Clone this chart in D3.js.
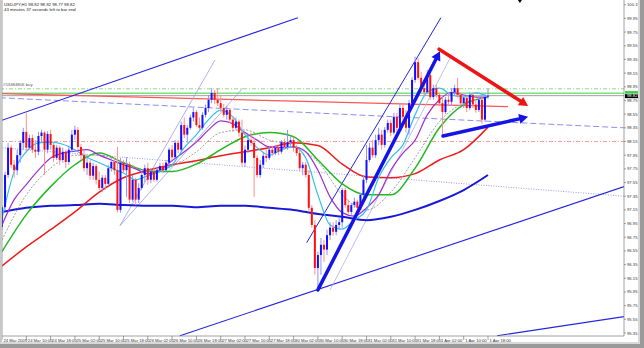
<!DOCTYPE html>
<html><head><meta charset="utf-8">
<script src="https://cdn.jsdelivr.net/npm/d3@7"></script>
<style>html,body{margin:0;padding:0;background:#fff;}svg{display:block;}</style>
</head><body>
<script>
// ---------- DATA ----------
const title = "USDJPY,H1  98.82 98.92 98.77 98.82";
const subtitle = "43 minutes 37 seconds left to bar end";
const orderLabel = "#53484806 buy";
const timeLabels = ["24 Mar 2009","24 Mar 10:00","24 Mar 18:00","25 Mar 02:00","25 Mar 10:00","25 Mar 18:00","26 Mar 02:00","26 Mar 10:00","26 Mar 18:00","27 Mar 02:00","27 Mar 10:00","27 Mar 18:00","30 Mar 02:00","30 Mar 10:00","30 Mar 18:00","31 Mar 02:00","31 Mar 10:00","31 Mar 18:00","1 Apr 02:00","1 Apr 10:00","1 Apr 18:00"];
const priceTicks = [100.15,99.95,99.75,99.55,99.35,99.15,98.95,98.75,98.55,98.35,98.15,97.95,97.75,97.55,97.35,97.15,96.95,96.75,96.55,96.35,96.15,95.95,95.75,95.55,95.35];
const lastPrice = 98.82;

const open = [96.90,97.19,97.66,98.06,97.81,97.73,97.95,98.13,98.29,98.06,
98.20,98.03,98.00,98.23,98.28,98.03,98.26,98.10,97.91,98.06,
97.88,98.00,97.85,98.03,98.25,98.32,98.07,97.95,97.76,97.84,
97.65,97.79,97.59,97.47,97.62,97.53,97.76,97.85,97.73,97.15,
97.84,97.73,97.81,97.30,97.59,97.30,97.47,97.66,97.76,97.59,
97.71,97.59,97.73,97.79,97.73,97.84,98.03,97.92,98.13,98.03,
98.39,98.25,98.35,98.50,98.58,98.39,98.35,98.54,98.64,98.76,
98.86,98.76,98.71,98.64,98.54,98.61,98.47,98.35,98.44,98.28,
97.84,98.03,98.17,98.13,97.91,97.66,97.81,97.94,97.91,98.03,
97.98,98.06,98.00,98.14,98.07,98.14,98.17,98.06,97.98,97.76,
97.81,97.66,97.18,96.93,96.30,96.49,96.64,96.57,96.78,96.89,
96.83,96.93,96.97,97.44,97.22,97.12,97.22,97.27,97.18,97.37,
97.59,97.88,98.06,97.95,98.17,98.25,98.10,98.32,98.42,98.28,
98.51,98.35,98.64,98.51,98.35,98.71,99.05,99.31,99.08,98.93,
98.87,99.12,98.80,98.93,98.83,98.71,98.58,98.76,98.73,98.87,
98.93,98.83,98.71,98.79,98.64,98.83,98.69,98.61,98.76,98.47,
98.82];
const high = [97.22,97.71,98.13,98.10,97.88,98.03,98.17,98.35,98.57,98.25,
98.25,98.17,98.29,98.32,98.30,98.30,98.32,98.14,98.10,98.09,
98.06,98.03,98.09,98.32,98.38,98.36,98.11,98.03,97.91,97.88,
97.84,97.82,97.71,97.66,97.66,97.81,97.91,97.91,98.07,97.91,
97.88,97.92,97.85,97.66,97.62,97.54,97.71,97.81,97.84,97.76,
97.76,97.78,97.84,97.84,97.88,98.06,98.10,98.17,98.17,98.44,
98.50,98.39,98.54,98.64,98.61,98.50,98.58,98.69,98.83,98.93,
98.90,98.93,98.82,98.70,98.67,98.64,98.52,98.50,98.47,98.47,
98.09,98.25,98.28,98.20,97.95,97.88,98.00,98.03,98.07,98.09,
98.10,98.09,98.17,98.19,98.32,98.22,98.22,98.10,98.03,97.85,
97.85,97.73,97.22,97.00,96.54,96.74,96.71,96.86,96.97,96.97,
97.00,97.03,97.47,97.47,97.30,97.25,97.33,97.30,97.40,97.66,
98.10,98.13,98.17,98.25,98.35,98.32,98.36,98.47,98.47,98.57,
98.57,98.70,98.70,98.61,98.76,99.09,99.39,99.37,99.17,98.99,
99.20,99.23,98.98,98.98,98.87,98.80,98.80,98.87,98.93,98.98,
99.08,98.87,98.83,98.82,98.87,98.87,98.76,98.80,98.80,98.85,
98.92];
const low = [96.86,97.15,97.62,97.76,97.62,97.66,97.84,98.03,98.00,98.03,
97.98,97.91,97.95,98.14,97.66,97.98,98.03,97.85,97.88,97.81,
97.84,97.76,97.81,98.00,98.17,98.03,97.88,97.71,97.66,97.59,
97.59,97.52,97.44,97.41,97.44,97.50,97.71,97.66,97.11,97.11,
97.69,97.34,97.25,97.27,97.22,97.25,97.44,97.56,97.52,97.54,
97.56,97.56,97.71,97.69,97.71,97.76,97.88,97.91,97.98,98.00,
98.20,98.13,98.32,98.44,98.36,98.32,98.32,98.50,98.58,98.71,
98.70,98.67,98.58,98.50,98.47,98.42,98.29,98.32,98.22,97.79,
97.78,97.98,98.09,97.34,97.62,97.62,97.76,97.85,97.88,97.94,
97.95,97.95,97.97,98.03,98.03,98.06,98.00,97.94,97.71,97.66,
97.62,97.12,96.89,96.20,95.98,96.20,96.39,96.49,96.71,96.77,
96.78,96.86,96.89,97.18,97.08,97.08,97.18,97.12,97.15,97.33,
97.54,97.85,97.91,97.91,98.10,98.03,98.06,98.28,98.23,98.25,
98.22,98.32,98.47,98.28,98.25,98.67,99.01,99.05,98.87,98.82,
98.85,98.76,98.76,98.79,98.67,98.22,98.55,98.69,98.67,98.83,
98.79,98.67,98.64,98.58,98.61,98.64,98.57,98.58,98.41,98.44,
98.77];
const close = [97.19,97.66,98.06,97.81,97.73,97.95,98.13,98.29,98.06,98.20,
98.03,98.00,98.23,98.28,98.03,98.26,98.10,97.91,98.06,97.88,
98.00,97.85,98.03,98.25,98.32,98.07,97.95,97.76,97.84,97.65,
97.79,97.59,97.47,97.62,97.53,97.76,97.85,97.73,97.15,97.84,
97.73,97.81,97.30,97.59,97.30,97.47,97.66,97.76,97.59,97.71,
97.59,97.73,97.79,97.73,97.84,98.03,97.92,98.13,98.03,98.39,
98.25,98.35,98.50,98.58,98.39,98.35,98.54,98.64,98.76,98.86,
98.76,98.71,98.64,98.54,98.61,98.47,98.35,98.44,98.28,97.84,
98.03,98.17,98.13,97.91,97.66,97.81,97.94,97.91,98.03,97.98,
98.06,98.00,98.14,98.07,98.14,98.17,98.06,97.98,97.76,97.81,
97.66,97.18,96.93,96.30,96.49,96.64,96.57,96.78,96.89,96.83,
96.93,96.97,97.44,97.22,97.12,97.22,97.27,97.18,97.37,97.59,
97.88,98.06,97.95,98.17,98.25,98.10,98.32,98.42,98.28,98.51,
98.35,98.64,98.51,98.35,98.71,99.05,99.31,99.08,98.93,98.87,
99.12,98.80,98.93,98.83,98.71,98.58,98.76,98.73,98.87,98.93,
98.83,98.71,98.79,98.64,98.83,98.69,98.61,98.76,98.47,98.80,
98.82];

// moving averages, read every 4 bars (fast) or every 8 bars (slow)
const maFast = [97.03,97.71,98.00,98.13,98.14,98.11,98.03,97.92,97.84,97.76,97.69,97.59,97.65,97.71,97.81,98.06,98.25,98.47,98.61,98.51,98.25,98.06,97.95,98.03,98.07,97.91,97.37,96.93,96.87,97.00,97.15,97.62,97.91,98.10,98.54,98.87,98.93,98.83,98.80,98.86,98.80];
const maPurple = [96.93,97.30,97.52,97.73,97.91,97.98,98.01,98.03,97.95,97.88,97.81,97.75,97.68,97.73,97.87,98.00,98.14,98.32,98.45,98.41,98.28,98.17,98.07,98.06,98.07,98.00,97.73,97.34,97.11,97.06,97.18,97.37,97.73,97.98,98.17,98.54,98.76,98.87,98.83,98.80,98.80];
const maGray = [96.71,97.37,97.76,97.95,97.95,97.85,97.73,97.79,98.00,98.28,98.32,98.17,98.09,97.85,97.37,97.15,97.41,97.91,98.44,98.71,98.79];
const maGreen = [96.54,97.08,97.49,97.81,97.98,97.84,97.72,97.71,97.82,98.03,98.22,98.28,98.22,97.88,97.53,97.37,97.37,97.76,98.35,98.69,98.80];
const maRed = [96.33,96.61,96.86,97.12,97.41,97.62,97.73,97.81,97.87,97.94,98.00,98.06,98.13,98.09,97.82,97.63,97.62,97.68,97.88,98.03,98.36];
const maBlue = [97.12,97.18,97.21,97.22,97.24,97.22,97.21,97.21,97.19,97.21,97.21,97.18,97.15,97.09,97.05,97.00,97.05,97.15,97.28,97.44,97.66];

// drawn objects: [barIndex, price] pairs
const trendUpperLeft = [[-0.7,98.45],[97.4,99.96]];
const trendLowerChannel = [[58.6,95.31],[204.8,97.49]];
const trendBottomRight = [[163,95.31],[204.8,95.59]];
const trendSteep = [[100.3,96.67],[144.5,99.96]];
const chan1 = [[38.85,96.92],[70.1,99.34]];
const chan2 = [[38.85,96.92],[79.3,98.93]];
const chan3 = [[108,95.98],[148.1,99.42]];
const arrowBlueBig = [[104,95.98],[144.2,99.47]];
const arrowRed = [[143.9,99.50],[173.2,98.67]];
const arrowBlueSmall = [[145.2,98.23],[173.2,98.51]];
const redLine = [[-0.7,98.85],[166.6,98.66]];
const blueDashed = [[-0.7,98.79],[204.8,98.35]];
const blueDotted = [[-0.7,98.06],[204.8,97.35]];
const greenDashDot = 98.92;
const greenSolid = 98.855;
const pinkDashDot = 98.15;

// ---------- CHART ----------
const W = 644, H = 348;
const plotR = 624, plotB = 336;
const svg = d3.select("body").append("svg").attr("width", W).attr("height", H)
  .style("font-family", "'Liberation Sans', Arial, sans-serif");

const x = d3.scaleLinear().domain([0, 160]).range([2, 488]);
const y = d3.scaleLinear().domain([95.35, 100.15]).range([333, 4.7]);

svg.append("rect").attr("width", W).attr("height", H).attr("fill", "#fff");
svg.append("defs").append("clipPath").attr("id", "clip")
  .append("rect").attr("x", 2).attr("y", 0).attr("width", plotR - 2).attr("height", plotB);

const g = svg.append("g").attr("clip-path", "url(#clip)");
const seg = (pts, color, w, dash) => g.append("line")
  .attr("x1", x(pts[0][0])).attr("y1", y(pts[0][1]))
  .attr("x2", x(pts[1][0])).attr("y2", y(pts[1][1]))
  .attr("stroke", color).attr("stroke-width", w).attr("stroke-dasharray", dash || null);
const hline = (v, color, w, dash) => g.append("line")
  .attr("x1", 0).attr("x2", plotR).attr("y1", y(v)).attr("y2", y(v))
  .attr("stroke", color).attr("stroke-width", w).attr("stroke-dasharray", dash || null);

// horizontal / background lines
hline(greenDashDot, "#8fd88f", 1, "4,2,1,2");
hline(greenSolid, "#7ee07e", 1.6);
hline(lastPrice, "#a0a0a0", 1);
seg(redLine, "#ff5555", 1.4);
seg(blueDashed, "#8c8cf0", 1, "6,3");
hline(pinkDashDot, "#ff9a9a", 1, "4,2,1,2");
seg(blueDotted, "#9a9af0", 1, "1,1.5");

// thin trend lines
seg(trendUpperLeft, "#2424e0", 1.1);
seg(trendLowerChannel, "#2424e0", 1.1);
seg(trendBottomRight, "#2424e0", 1.1);
seg(trendSteep, "#2424e0", 1);
seg(chan1, "#9a9af0", 0.8);
seg(chan2, "#9a9af0", 0.8);
seg(chan3, "#b0b0e8", 0.8);

// moving averages
const maLine = (arr, step, color, w, dash) => {
  const ln = d3.line().x((d, k) => x(k * step)).y(d => y(d)).curve(d3.curveMonotoneX);
  g.append("path").datum(arr).attr("d", ln).attr("fill", "none")
    .attr("stroke", color).attr("stroke-width", w).attr("stroke-dasharray", dash || null);
};
maLine(maBlue, 8, "#1818d8", 2);
maLine(maRed, 8, "#ee1c1c", 1.5);
maLine(maGreen, 8, "#22b822", 1.5);
maLine(maGray, 8, "#a0a0a0", 1, "2,1.5");
maLine(maPurple, 4, "#a030d0", 1.2);
maLine(maFast, 4, "#30c0f0", 1.2);

// candles
const bars = close.map((c, i) => ({i, o: open[i], h: high[i], l: low[i], c}));
g.selectAll(".wick").data(bars).enter().append("line")
  .attr("x1", d => x(d.i)).attr("x2", d => x(d.i))
  .attr("y1", d => y(d.h)).attr("y2", d => y(d.l))
  .attr("stroke", d => d.c >= d.o ? "#9090ff" : "#ff9090").attr("stroke-width", 1);
g.selectAll(".body").data(bars).enter().append("rect")
  .attr("x", d => x(d.i) - 1).attr("width", 2)
  .attr("y", d => y(Math.max(d.o, d.c)))
  .attr("height", d => Math.max(1, Math.abs(y(d.o) - y(d.c))))
  .attr("fill", d => d.c >= d.o ? "#1010ff" : "#ff1010");

// arrows
const arrow = (pts, color, w, head) => {
  const x1 = x(pts[0][0]), y1 = y(pts[0][1]), x2 = x(pts[1][0]), y2 = y(pts[1][1]);
  const a = Math.atan2(y2 - y1, x2 - x1);
  const bx = x2 - head * Math.cos(a), by = y2 - head * Math.sin(a);
  g.append("line").attr("x1", x1).attr("y1", y1).attr("x2", bx).attr("y2", by)
    .attr("stroke", color).attr("stroke-width", w).attr("stroke-linecap", "round");
  const hw = head * 0.55;
  g.append("path").attr("d", `M${x2},${y2}L${bx + hw * Math.sin(a)},${by - hw * Math.cos(a)}L${bx - hw * Math.sin(a)},${by + hw * Math.cos(a)}Z`)
    .attr("fill", color);
};
arrow(arrowBlueBig, "#1414e6", 3.5, 9);
arrow(arrowRed, "#ee1414", 3.5, 9);
arrow(arrowBlueSmall, "#1414e6", 3.5, 9);

// texts top-left
svg.append("text").attr("x", 4).attr("y", 6).attr("font-size", 4.3).attr("fill", "#222").text(title);
svg.append("text").attr("x", 4).attr("y", 10.5).attr("font-size", 4.3).attr("fill", "#222").text(subtitle);
svg.append("text").attr("x", 3).attr("y", y(greenDashDot) - 3).attr("font-size", 4.3).attr("fill", "#555").text(orderLabel);

// shift marker
svg.append("path").attr("d", `M${x(170.5) - 2},0L${x(170.5) + 2},0L${x(170.5)},3Z`).attr("fill", "#000");

// frame
svg.append("line").attr("x1", 2).attr("x2", 2).attr("y1", 0).attr("y2", plotB).attr("stroke", "#888").attr("stroke-width", 0.8);
svg.append("line").attr("x1", plotR).attr("x2", plotR).attr("y1", 0).attr("y2", plotB).attr("stroke", "#888").attr("stroke-width", 0.8);
svg.append("line").attr("x1", 2).attr("x2", plotR).attr("y1", plotB).attr("y2", plotB).attr("stroke", "#888").attr("stroke-width", 0.8);

// price axis
const yAxis = svg.append("g");
priceTicks.forEach(v => {
  yAxis.append("line").attr("x1", plotR).attr("x2", plotR + 2).attr("y1", y(v)).attr("y2", y(v)).attr("stroke", "#666").attr("stroke-width", 0.6);
  yAxis.append("text").attr("x", plotR + 3).attr("y", y(v) + 1.5).attr("font-size", 4.2).attr("fill", "#333").text(v.toFixed(2));
});
// current price boxes
svg.append("rect").attr("x", plotR + 1).attr("y", y(greenSolid) - 2.2).attr("width", 15).attr("height", 2.6).attr("fill", "#3ecf3e");
svg.append("rect").attr("x", plotR + 1).attr("y", y(lastPrice) - 1.5).attr("width", 15).attr("height", 4).attr("fill", "#000");
svg.append("text").attr("x", plotR + 3).attr("y", y(lastPrice) + 1.8).attr("font-size", 4.2).attr("fill", "#fff").text(lastPrice.toFixed(2));

// time axis
timeLabels.forEach((t, k) => {
  const xi = x(k * 8);
  svg.append("line").attr("x1", xi).attr("x2", xi).attr("y1", plotB).attr("y2", plotB + 4).attr("stroke", "#666").attr("stroke-width", 0.6);
  svg.append("text").attr("x", xi + 1.5).attr("y", plotB + 5.5).attr("font-size", 4.2).attr("fill", "#333").text(t);
});

// screenshot shadow border
svg.append("rect").attr("x", 0).attr("y", 0).attr("width", 2).attr("height", H).attr("fill", "#c8c8c8");
svg.append("rect").attr("x", 640).attr("y", 0).attr("width", 4).attr("height", H).attr("fill", "#9a9a9a");
svg.append("rect").attr("x", 0).attr("y", 344).attr("width", W).attr("height", 4).attr("fill", "#9a9a9a");
svg.append("rect").attr("x", 638).attr("y", 0).attr("width", 2).attr("height", 344).attr("fill", "#d8d8d8");
svg.append("rect").attr("x", 0).attr("y", 342).attr("width", 640).attr("height", 2).attr("fill", "#d8d8d8");
</script>
</body></html>
